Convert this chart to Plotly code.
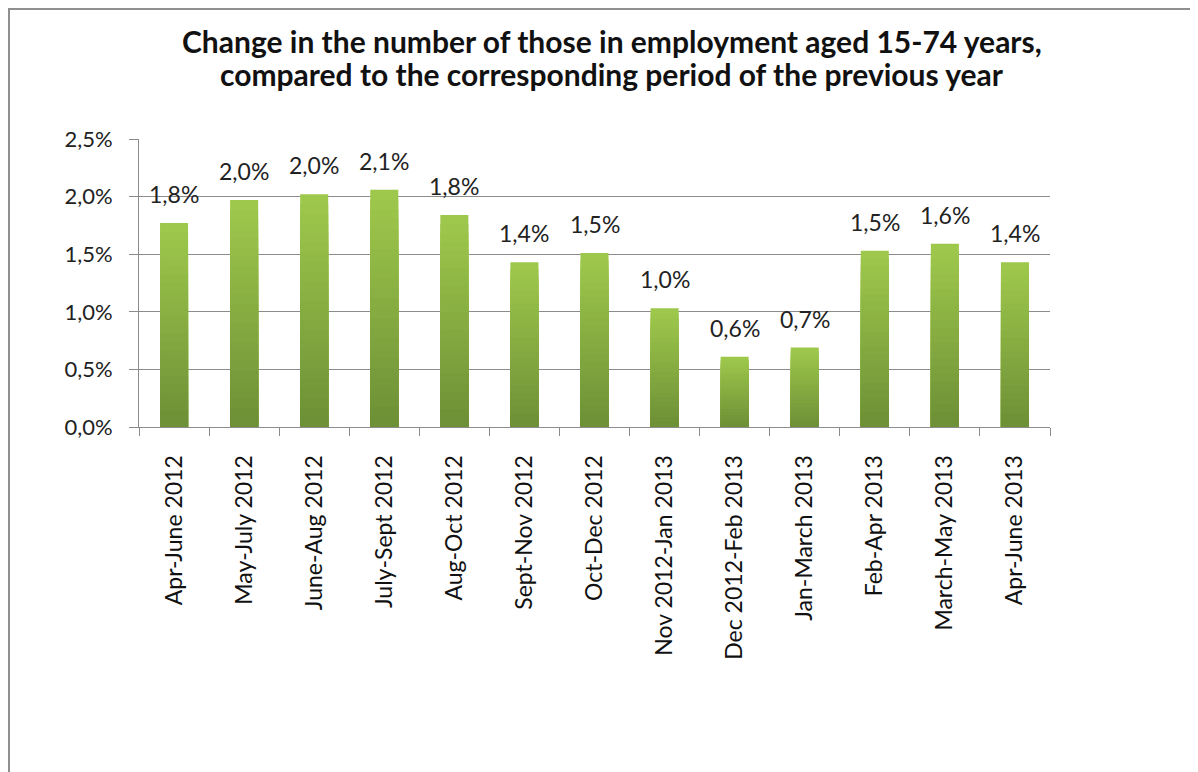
import plotly.graph_objects as go

categories = ["Apr-June 2012", "May-July 2012", "June-Aug 2012", "July-Sept 2012",
              "Aug-Oct 2012", "Sept-Nov 2012", "Oct-Dec 2012", "Nov 2012-Jan 2013",
              "Dec 2012-Feb 2013", "Jan-March 2013", "Feb-Apr 2013", "March-May 2013",
              "Apr-June 2013"]
values_pct = [1.77, 1.97, 2.02, 2.06, 1.84, 1.43, 1.51, 1.03, 0.61, 0.69, 1.53, 1.59, 1.43]
y_ticks = [0.0, 0.005, 0.010, 0.015, 0.020, 0.025]
title_lines = ["Change in the number of those in employment aged 15-74 years,",
               "compared to the corresponding period of the previous year"]

values = [v / 100 for v in values_pct]
FONT = "Lato"

fig = go.Figure()

# gradient-like fill: overlay layers from light (top) to dark (bottom)
top_rgb = (158, 200, 76)
bot_rgb = (110, 144, 54)
n_layers = 24
for k in range(n_layers):
    frac = 1 - k / n_layers
    t = k / (n_layers - 1)
    col = tuple(round(top_rgb[i] + (bot_rgb[i] - top_rgb[i]) * t) for i in range(3))
    fig.add_trace(go.Bar(
        x=categories, y=[v * frac for v in values],
        marker=dict(color="rgb(%d,%d,%d)" % col, line=dict(width=0)),
        showlegend=False, hoverinfo="skip",
    ))

for c, v in zip(categories, values):
    fig.add_annotation(x=c, y=v, text=f"{v*100:.1f}%".replace(".", ","),
                       showarrow=False, yanchor="bottom", yshift=13,
                       font=dict(family=FONT, size=23, color="#222"))

# page-coordinate helpers (page has 8px body margin)
OFF = 8
L, R = 139, 1050
T, B = 139, 427
W, H = 1198 - OFF, 772 - OFF
def px(x):
    return (x - L) / (R - L)
def py(y):
    return (B - y) / (B - T)

for i, line in enumerate(title_lines):
    fig.add_annotation(xref="paper", yref="paper", x=px(611.5), y=py([41, 74][i]),
                       xanchor="center", yanchor="middle", showarrow=False,
                       text=f"<b>{line}</b>",
                       font=dict(family=FONT, size=30, color="#111"))

fig.add_shape(type="line", xref="paper", yref="paper",
              x0=px(9), x1=px(9), y0=py(800), y1=py(8),
              line=dict(color="#8f8f8f", width=2))
fig.add_shape(type="line", xref="paper", yref="paper",
              x0=px(8), x1=px(1220), y0=py(9), y1=py(9),
              line=dict(color="#8f8f8f", width=2))

fig.update_layout(
    width=W, height=H,
    margin=dict(l=L - OFF, r=W - (R - OFF), t=T - OFF, b=H - (B - OFF)),
    barmode="overlay", bargap=0.6,
    separators=",.",
    paper_bgcolor="white", plot_bgcolor="white",
    font=dict(family=FONT, size=22, color="#222"),
)
fig.update_yaxes(range=[0, 0.025], tickvals=y_ticks, tickformat=".1%",
                 showgrid=True, gridcolor="#8c8c8c", gridwidth=1,
                 showline=True, linecolor="#8c8c8c", linewidth=1,
                 ticks="outside", ticklen=9, tickcolor="#8c8c8c",
                 zeroline=False, ticklabelstandoff=12,
                 tickfont=dict(family=FONT, size=22, color="#222"))
fig.update_xaxes(showline=True, linecolor="#8c8c8c", linewidth=1,
                 ticks="outside", ticklen=8, tickcolor="#8c8c8c",
                 tickson="boundaries", tickangle=-90, ticklabelstandoff=18,
                 tickfont=dict(family=FONT, size=23, color="#111"))

fig.write_html("out.html")
